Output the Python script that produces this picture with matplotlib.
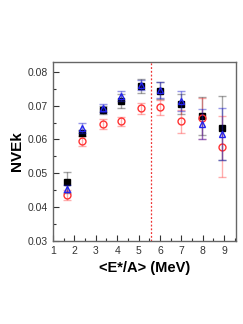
import matplotlib
matplotlib.use("Agg")
import matplotlib.pyplot as plt
from matplotlib.ticker import MultipleLocator, FuncFormatter

plt.rcParams['font.family'] = ['Liberation Sans', 'DejaVu Sans']

x = [1.66, 2.36, 3.32, 4.20, 5.09, 6.02, 6.99, 7.96, 8.91]
black = [0.0473, 0.0619, 0.0686, 0.0714, 0.0758, 0.0744, 0.0705, 0.0669, 0.0633]
black_err = [0.0031, 0.0010, 0.0012, 0.0020, 0.0021, 0.0025, 0.0030, 0.0055, 0.0095]
red = [0.0437, 0.0595, 0.0645, 0.0654, 0.0692, 0.0695, 0.0653, 0.0662, 0.0579]
red_err = [0.0015, 0.0015, 0.0014, 0.0013, 0.0017, 0.0022, 0.0035, 0.0060, 0.0090]
blue = [0.0455, 0.0635, 0.0693, 0.0729, 0.0760, 0.0746, 0.0713, 0.0646, 0.0616]
blue_err = [0.0010, 0.0015, 0.0013, 0.0015, 0.0015, 0.0023, 0.0030, 0.0045, 0.0078]
vline_x = 5.58

fig = plt.figure(figsize=(2.43, 3.24), dpi=100)
ax = fig.add_axes([0.218, 0.256, 0.753, 0.553])

ax.errorbar(x, black, yerr=black_err, fmt='s', ms=4.5, mfc='black', mec='black',
            ecolor=(0, 0, 0, 0.35), elinewidth=1.0, capsize=3, capthick=1.0, zorder=3)
ax.errorbar(x, red, yerr=red_err, fmt='o', ms=5, mfc='none', mec='#ff3333', mew=1.0,
            ecolor=(1, 0.2, 0.2, 0.4), elinewidth=1.0, capsize=3, capthick=1.0, zorder=3)
ax.errorbar(x, blue, yerr=blue_err, fmt='^', ms=5, mfc='none', mec='#2222ee', mew=1.0,
            ecolor=(0.1, 0.1, 0.8, 0.45), elinewidth=1.0, capsize=3, capthick=1.0, zorder=4)

ax.axvline(vline_x, color='#ee3333', ls=(0, (1.5, 1.5)), lw=0.9)

ax.set_xlim(1, 9.55)
ax.set_ylim(0.03, 0.0829)
ax.xaxis.set_major_locator(MultipleLocator(1))
ax.xaxis.set_minor_locator(MultipleLocator(0.5))
ax.yaxis.set_major_locator(MultipleLocator(0.01))
ax.yaxis.set_minor_locator(MultipleLocator(0.005))
ax.yaxis.set_major_formatter(FuncFormatter(lambda v, p: f"{v:.2f}"))

ax.tick_params(which='both', direction='in', labelsize=7.5, colors='#333333', width=0.8)
ax.tick_params(which='major', length=4)
ax.tick_params(which='minor', length=2)
for s in ax.spines.values():
    s.set_color('#666666')
    s.set_linewidth(1.0)

ax.set_xlabel('<E*/A> (MeV)', fontsize=10.5, fontweight='bold', labelpad=4)
ax.set_ylabel('NVEk', fontsize=11, fontweight='bold', labelpad=3)

fig.savefig('out.png', dpi=100)
